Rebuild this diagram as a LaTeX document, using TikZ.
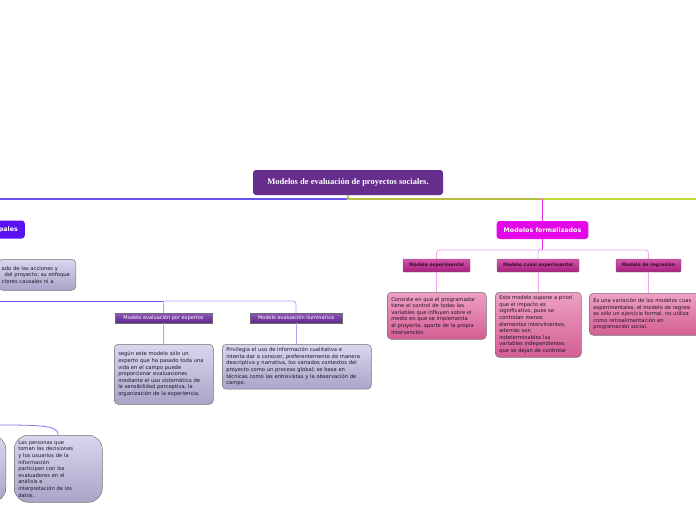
\documentclass[tikz,border=0pt]{standalone}
\usepackage{fontspec}
\setmainfont{DejaVu Sans}
\newfontfamily\titlefont{Liberation Serif}
\usetikzlibrary{positioning}
\definecolor{rootPurple}{HTML}{662D8C}
\definecolor{leftBlue}{HTML}{5B12F2}
\definecolor{formalMagenta}{HTML}{E405E8}
\definecolor{blueLine}{HTML}{6652EE}
\definecolor{greenLine}{HTML}{B9BF46}
\definecolor{limeLine}{HTML}{BEDC30}
\definecolor{violetLine}{HTML}{7A4EF2}
\definecolor{lavLine}{HTML}{B89EF6}
\definecolor{magLine}{HTML}{E22AE4}
\definecolor{pinkLine}{HTML}{F0A4F2}
\definecolor{headTop}{HTML}{9058BC}
\definecolor{headBot}{HTML}{5C2888}
\definecolor{mheadTop}{HTML}{D454AC}
\definecolor{mheadBot}{HTML}{A6207E}
\definecolor{mheadText}{HTML}{3A0A2C}
\definecolor{pinkTop}{HTML}{EEA0C4}
\definecolor{pinkBot}{HTML}{D45E94}
\definecolor{lavTop}{HTML}{DAD6EE}
\definecolor{lavBot}{HTML}{AAA4C8}
\definecolor{noteText}{HTML}{1E1428}

\tikzset{
  rootbox/.style={fill=rootPurple, rounded corners=3pt, text=white,
    font=\titlefont\bfseries\fontsize{8.5}{10}\selectfont,
    minimum width=190pt, minimum height=25pt},
  mainbox/.style={rounded corners=3pt, text=white, inner xsep=7pt,
    font=\bfseries\fontsize{6.3}{7.5}\selectfont, minimum height=18pt},
  headbox/.style={draw=gray!85!black, line width=0.4pt, inner sep=1pt,
    minimum height=11pt},
  purplehead/.style={headbox, top color=headTop, bottom color=headBot,
    text=white, font=\fontsize{5}{6}\selectfont, minimum height=10pt},
  pinkhead/.style={headbox, top color=mheadTop, bottom color=mheadBot,
    text=mheadText, rounded corners=1pt,
    font=\bfseries\fontsize{4.6}{6}\selectfont, minimum height=13pt},
  notebox/.style={draw=gray!90!black, line width=0.5pt, rounded corners=4pt,
    align=left, text=noteText, inner xsep=4pt, anchor=north west,
    font=\fontsize{5.2}{6.6}\selectfont},
  lavnote/.style={notebox, top color=lavTop, bottom color=lavBot},
  pinknote/.style={notebox, top color=pinkTop, bottom color=pinkBot},
  link/.style={line width=0.8pt},
  mainlink/.style={line width=1.4pt},
}

\begin{document}
\begin{tikzpicture}[x=1pt,y=-1pt]
  \useasboundingbox (0,0) rectangle (696,520);

  % Root
  \node[rootbox] (root) at (348,182.5) {Modelos de evaluación de proyectos sociales.};
  \coordinate (split) at (348,199);
  \coordinate (leftend) at (0,199);
  \coordinate (rightend) at (696,199);

  % Left branch
  \node[mainbox, fill=leftBlue, anchor=east, text width=50pt, align=right] (pales) at (25,229.5) {pales};
  \node[lavnote, anchor=north east, text width=71pt, minimum height=31pt, inner xsep=3pt] (leftnote) at (76,259)
    {ado de las acciones y\\ \hspace*{3pt}del proyecto; su enfoque\\ ctores causales ni a};

  \node[purplehead, minimum width=97pt] (expert) at (163.5,318) {Modelo evaluación por expertos};
  \node[purplehead, minimum width=92pt] (ilum) at (296,318) {Modelo evaluación iluminativa};
  \node[lavnote, text width=91pt, minimum height=60pt] (expertnote) at (114,344)
    {según este modelo sólo un\\ experto que ha pasado toda una\\ vida en el campo puede\\ proporcionar evaluaciones\\ mediante el uso sistemático de\\ la sensibilidad perceptiva, la\\ organización de la experiencia.};
  \node[lavnote, text width=141pt, minimum height=44pt] (ilumnote) at (222,344)
    {Privilegia el uso de información cualitativa e\\ intenta dar a conocer, preferentemente de manera\\ descriptiva y narrativa, los variados contextos del\\ proyecto como un proceso global; se basa en\\ técnicas como las entrevistas y la observación de\\ campo.};

  % Bottom left
  \node[lavnote, rounded corners=14pt, text width=80pt, minimum height=67pt] (users) at (14,435)
    {Las personas que\\ toman las decisiones\\ y los usuarios de la\\ información\\ participan con los\\ evaluadores en el\\ análisis e\\ interpretación de los\\ datos.};
  \node[lavnote, rounded corners=14pt, anchor=north east, minimum width=60pt, minimum height=67pt] (leftuser) at (6,435) {};
  \coordinate (cleft) at (0,425);

  % Right branch
  \node[mainbox, fill=formalMagenta] (formal) at (542.5,230) {Modelos formalizados};
  \node[pinkhead, minimum width=67pt] (exper) at (436.5,265.5) {Modelo experimental};
  \node[pinkhead, minimum width=82pt] (cuasi) at (538,265.5) {Modelo cuasi experimental};
  \node[pinkhead, minimum width=65pt] (regr) at (648.5,265.5) {Modelo de regresión};
  \node[pinknote, text width=91pt, minimum height=47pt] (expernote) at (387,292)
    {Consiste en que el programador\\ tiene el control de todas las\\ variables que influyen sobre el\\ medio en que se implementa\\ el proyecto, aparte de la propia\\ intervención};
  \node[pinknote, text width=78pt, minimum height=65pt] (cuasinote) at (495,292)
    {Este modelo supone a priori\\ que el impacto es\\ significativo, pues se\\ controlan menos\\ elementos intervinientes,\\ además son\\ indeterminables las\\ variables independientes\\ que se dejan de controlar};
  \node[pinknote, text width=120pt, minimum height=42pt] (regrnote) at (589,293)
    {Es una variación de los modelos cuas\\ experimentales, el modelo de regresi\\ es sólo un ejercicio formal, no utiliza\\ como retroalimentación en\\ programación social.};

  % Connectors
  \draw[mainlink, blueLine] (split) -- (leftend);
  \draw[mainlink, greenLine] (root.south) -- (split) -- (formal.north |- split);
  \draw[mainlink, limeLine] (formal.north |- split) -- (rightend);
  \draw[link, magLine] (formal.north) -- (formal.north |- split);

  \coordinate (fbar) at (formal.south |- 0,250);
  \draw[link, magLine] (formal.south) -- (fbar);
  \draw[link, pinkLine, rounded corners=3pt] (fbar) -| (exper.north);
  \draw[link, pinkLine, rounded corners=3pt] (fbar) -| (regr.north);
  \draw[link, pinkLine, rounded corners=2pt] (fbar) -| (cuasi.north);
  \draw[link, pinkLine] (exper.south) -- (exper.south |- expernote.north);
  \draw[link, pinkLine] (cuasi.south) -- (cuasi.south |- cuasinote.north);
  \draw[link, pinkLine] (regr.south) -- (regr.south |- regrnote.north);

  \coordinate (pleft) at (0,301);
  \coordinate (pjoin) at (expert.north |- pleft);
  \draw[link, violetLine] (pleft) -- (pjoin);
  \draw[link, lavLine] (pjoin) -- (expert.north);
  \draw[link, lavLine, rounded corners=3pt] (pjoin) -| (ilum.north);
  \draw[link, lavLine] (expert.south) -- (expert.south |- expertnote.north);
  \draw[link, lavLine] (ilum.south) -- (ilum.south |- ilumnote.north);

  \draw[link, violetLine!60!lavLine] (cleft) .. controls (45,425) and (58,426) .. (users.north);
\end{tikzpicture}
\end{document}
